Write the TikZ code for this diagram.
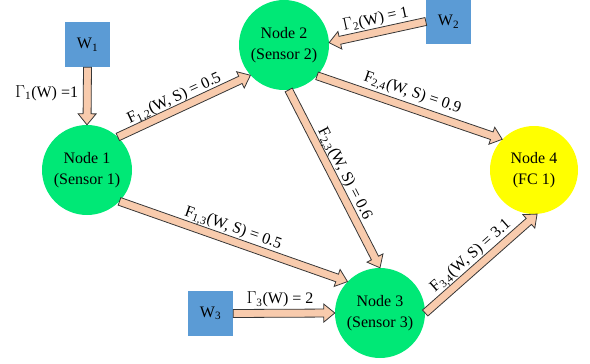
\documentclass[tikz,border=0pt]{standalone}
\usepackage{fontspec}
\setmainfont{Liberation Serif}
\usetikzlibrary{calc}

\definecolor{sensorgreen}{RGB}{0,232,118}
\definecolor{fcyellow}{RGB}{255,255,0}
\definecolor{srcblue}{RGB}{91,155,213}
\definecolor{flowfill}{RGB}{248,203,173}
\definecolor{flowline}{RGB}{55,55,55}

% small lowered index, as in F_{1,2}
\newcommand\sbs[1]{\textsubscript{#1}}

% block arrow from #1 (tail) to #2 (tip), with label options #3 and label text #4
\newcommand\flowarrow[4]{%
  \coordinate (hb) at ($(#2)!11pt!(#1)$);
  \path[flowshape]
    ($(#1)!4pt!90:(#2)$) -- ($(hb)!4pt!90:(#2)$) -- ($(hb)!9pt!90:(#2)$)
    -- (#2)
    -- ($(hb)!9pt!-90:(#2)$) -- ($(hb)!4pt!-90:(#2)$) -- ($(#1)!4pt!-90:(#2)$)
    -- cycle;
  \path (#1) -- node[lbl,#3] {#4} (#2);
}

\begin{document}
\begin{tikzpicture}[x=1pt, y=-1pt,
  txt/.style={font=\fontsize{16}{21}\selectfont, text=black},
  sensor/.style={circle, fill=sensorgreen, draw=none, minimum size=90pt,
    inner sep=0pt, align=center, txt},
  fcnode/.style={sensor, fill=fcyellow, minimum size=88pt},
  source/.style={rectangle, fill=srcblue, draw=none, minimum size=45pt,
    inner sep=0pt, txt},
  flowshape/.style={fill=flowfill, draw=flowline, line width=0.8pt, line join=miter},
  lbl/.style={txt, inner sep=0pt}]

\useasboundingbox (0,0) rectangle (590,364);

% sensors and fusion centre
\node[sensor] (n1) at (87,170)  {Node 1\\(Sensor 1)};
\node[sensor] (n2) at (284,45)  {Node 2\\(Sensor 2)};
\node[sensor] (n3) at (380,313) {Node 3\\(Sensor 3)};
\node[fcnode] (n4) at (534,170) {Node 4\\(FC 1)};

% sources
\node[source] (w1) at (87.5,44.5)  {W\sbs{1}};
\node[source] (w2) at (448.5,21.5) {W\sbs{2}};
\node[source] (w3) at (210.5,313.5) {W\sbs{3}};

% flows
\flowarrow{w1.south}{n1.north}{left=9pt, pos=.45}{$\Gamma$\sbs{1}(W) =1}
\flowarrow{w2.west}{n2.3}{sloped, above=5pt, pos=.49}{$\Gamma$\sbs{2}(W) = 1}
\flowarrow{n1.47}{n2.222}{sloped, above=2.5pt, pos=.46}{F\sbs{1,2}(W, S) = 0.5}
\flowarrow{n2.317}{n4.136}{sloped, above=6pt, pos=.49}{F\sbs{2,4}(W, S) = 0.9}
\flowarrow{n2.276}{n3.north}{sloped, above=3pt, pos=.5}{F\sbs{2,3}(W, S) = 0.6}
\flowarrow{n1.316}{n3.136}{sloped, above=4pt, pos=.48}{F\sbs{1,3}(W, S) = 0.5}
\flowarrow{w3.east}{n3.west}{above=6pt, pos=.46}{$\Gamma$\sbs{3}(W) = 2}
\flowarrow{n3.east}{n4.274}{sloped, above=4pt, pos=.48}{F\sbs{3,4}(W, S) = 3.1}

\end{tikzpicture}
\end{document}
